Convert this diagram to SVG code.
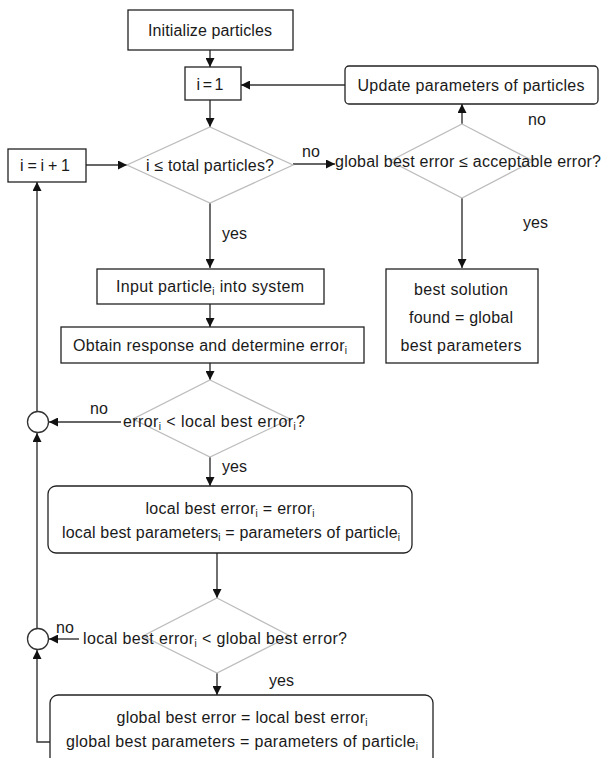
<svg xmlns="http://www.w3.org/2000/svg" width="603" height="758" viewBox="0 0 603 758">
<defs>
<marker id="ah" viewBox="0 0 10 10" refX="10" refY="5" markerWidth="9" markerHeight="9" markerUnits="userSpaceOnUse" orient="auto">
<path d="M0,0 L10,5 L0,10 z" fill="#111"/>
</marker>
<style>
text{font-family:"Liberation Sans",Arial,sans-serif;font-size:16px;fill:#1a1a1a;text-anchor:middle}
.box{fill:#fff;stroke:#222;stroke-width:1.3}
.dia{fill:none;stroke:#bdbdbd;stroke-width:1.3}
.con{fill:none;stroke:#333;stroke-width:1.4}
.arr{marker-end:url(#ah)}
.sub{font-size:10px}
.lbl{text-anchor:start}
</style>
</defs>
<rect width="603" height="758" fill="#fff"/>

<g id="connectors">
<line class="con arr" x1="210" y1="50" x2="210" y2="67"/>
<line class="con arr" x1="210" y1="100" x2="210" y2="127"/>
<line class="con arr" x1="345" y1="85" x2="241" y2="85"/>
<line class="con arr" x1="86" y1="165" x2="127" y2="165"/>
<line class="con arr" x1="293" y1="164" x2="335" y2="164"/>
<line class="con arr" x1="462" y1="124" x2="462" y2="104"/>
<line class="con arr" x1="462" y1="198" x2="462" y2="268"/>
<line class="con arr" x1="210" y1="203" x2="210" y2="268"/>
<line class="con arr" x1="210" y1="304" x2="210" y2="327"/>
<line class="con arr" x1="210" y1="363" x2="210" y2="380"/>
<line class="con arr" x1="121" y1="422" x2="49" y2="422"/>
<line class="con arr" x1="210" y1="457" x2="210" y2="486"/>
<line class="con arr" x1="217" y1="553" x2="217" y2="598"/>
<line class="con arr" x1="79" y1="639" x2="49" y2="639"/>
<line class="con arr" x1="217" y1="673" x2="217" y2="695"/>
<line class="con arr" x1="37" y1="411" x2="37" y2="182"/>
<line class="con arr" x1="37" y1="628" x2="37" y2="433"/>
<polyline class="con arr" points="50,742 37,742 37,650"/>
</g>

<g id="n-init"><rect class="box" x="128" y="10" width="165" height="40"/><text x="210" y="36" textLength="124">Initialize particles</text></g>
<g id="n-i1"><rect class="box" x="185" y="67" width="56" height="33"/><text x="210" y="90" textLength="27">i = 1</text></g>
<g id="n-inc"><rect class="box" x="8" y="149" width="78" height="33"/><text x="45" y="171" textLength="50">i = i + 1</text></g>
<g id="n-update"><rect class="box" x="345" y="66" width="253" height="38" rx="4"/><text x="471" y="91" textLength="227">Update parameters of particles</text></g>
<g id="n-d1"><polygon class="dia" points="210,127 293,165 210,203 127,165"/><text x="210" y="171" textLength="128">i ≤ total particles?</text></g>
<g id="n-d2"><polygon class="dia" points="462,124 533,161 462,198 390,161"/><text x="468" y="167" textLength="266">global best error ≤ acceptable error?</text></g>
<g id="n-best"><rect class="box" x="386" y="269" width="152" height="94"/><text x="461" y="295" textLength="94">best solution</text><text x="461" y="323" textLength="104">found = global</text><text x="461" y="351" textLength="121">best parameters</text></g>
<g id="n-input"><rect class="box" x="97" y="269" width="227" height="35"/><text x="210" y="292" textLength="188">Input particle<tspan class="sub" dy="3">i</tspan><tspan dy="-3"> into system</tspan></text></g>
<g id="n-obtain"><rect class="box" x="61" y="327" width="303" height="36"/><text x="210" y="351" textLength="274">Obtain response and determine error<tspan class="sub" dy="3">i</tspan></text></g>
<g id="n-d3"><polygon class="dia" points="210,380 290,419 210,457 133,419"/><text x="214" y="427" textLength="182">error<tspan class="sub" dy="3">i</tspan><tspan dy="-3"> &lt; local best error</tspan><tspan class="sub" dy="3">i</tspan><tspan dy="-3">?</tspan></text></g>
<g id="n-c1"><circle cx="38" cy="422" r="10.5" fill="#fff" stroke="#333" stroke-width="1.3"/></g>
<g id="n-local"><rect class="box" x="48" y="486" width="364" height="67" rx="8"/><text x="230" y="514" textLength="169">local best error<tspan class="sub" dy="3">i</tspan><tspan dy="-3"> = error</tspan><tspan class="sub" dy="3">i</tspan></text><text x="231" y="538" textLength="338">local best parameters<tspan class="sub" dy="3">i</tspan><tspan dy="-3"> = parameters of particle</tspan><tspan class="sub" dy="3">i</tspan></text></g>
<g id="n-d4"><polygon class="dia" points="217,598 290,636 217,673 143,636"/><text x="215" y="644" textLength="264">local best error<tspan class="sub" dy="3">i</tspan><tspan dy="-3"> &lt; global best error?</tspan></text></g>
<g id="n-c2"><circle cx="38" cy="639" r="10.5" fill="#fff" stroke="#333" stroke-width="1.3"/></g>
<g id="n-global"><rect class="box" x="50" y="695" width="383" height="80" rx="8"/><text x="242" y="723" textLength="251">global best error = local best error<tspan class="sub" dy="3">i</tspan></text><text x="242" y="747" textLength="352">global best parameters = parameters of particle<tspan class="sub" dy="3">i</tspan></text></g>

<g id="labels">
<text class="lbl" x="302" y="157">no</text>
<text class="lbl" x="528" y="125">no</text>
<text class="lbl" x="523" y="228">yes</text>
<text class="lbl" x="222" y="239">yes</text>
<text class="lbl" x="90" y="414">no</text>
<text class="lbl" x="222" y="472">yes</text>
<text class="lbl" x="56" y="633">no</text>
<text class="lbl" x="269" y="686">yes</text>
</g>
</svg>
